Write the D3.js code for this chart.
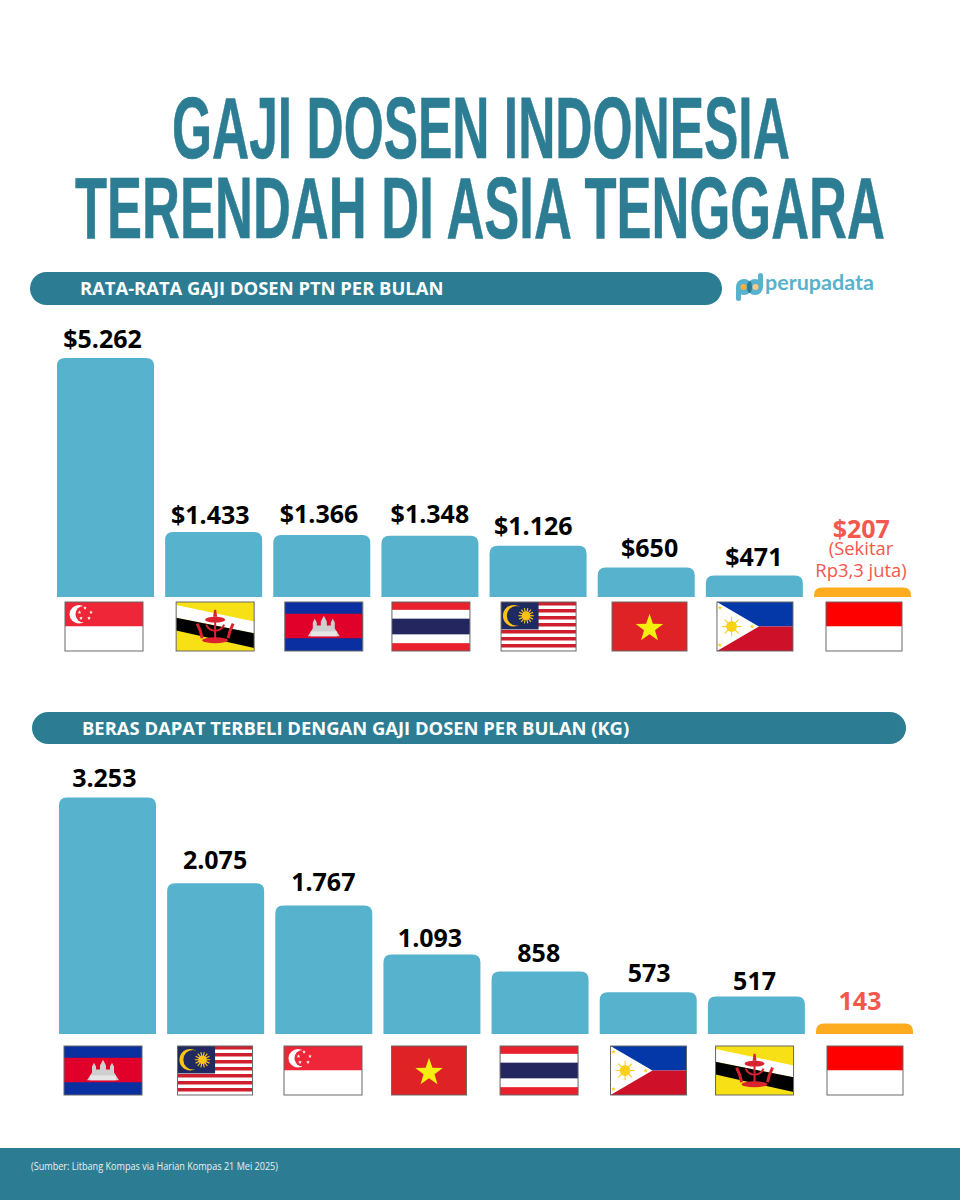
<!DOCTYPE html>
<html>
  <head>
    <meta charset="utf-8">
    <script src="https://cdn.jsdelivr.net/npm/d3@7"></script>
    <style type="text/css">
      body {
        margin: 0;
        padding: 0;
        background: #fff;
      }
      svg {
        display: block;
      }
      text {
        font-family: 'Open Sans', sans-serif;
      }
    </style>
  </head>
  <body>
    <svg id="chart" width="960" height="1200"></svg>

    <script>
      /* Data */
      const salaryCountries = ['sg', 'bn', 'kh', 'th', 'my', 'vn', 'ph', 'id']
      const salaryValues = [5262, 1433, 1366, 1348, 1126, 650, 471, 207]
      const riceCountries = ['kh', 'my', 'sg', 'vn', 'th', 'ph', 'bn', 'id']
      const riceValues = [3253, 2075, 1767, 1093, 858, 573, 517, 143]
      const titleLines = ['GAJI DOSEN INDONESIA', 'TERENDAH DI ASIA TENGGARA']
      const salaryHeading = 'RATA-RATA GAJI DOSEN PTN PER BULAN'
      const riceHeading = 'BERAS DAPAT TERBELI DENGAN GAJI DOSEN PER BULAN (KG)'
      const salaryNote = ['(Sekitar', 'Rp3,3 juta)']
      const sourceText = '(Sumber: Litbang Kompas via Harian Kompas 21 Mei 2025)'

      /* Colours */
      const teal = '#2c7d93'
      const barBlue = '#57b2cd'
      const orange = '#fdab1f'
      const coral = '#f4574e'

      const svg = d3.select('#chart')
      const idLocale = d3.formatLocale({ decimal: ',', thousands: '.', grouping: [3], currency: ['$', ''] })
      const fmtInt = idLocale.format(',d')

      /* Title: narrow face stretched to the measured line width */
      const titleBox = [
        { x: 172, y: 158, w: 618 },
        { x: 75, y: 238, w: 810 }
      ]
      svg.selectAll('.title')
        .data(titleLines)
        .join('text')
        .attr('class', 'title')
        .style('font-family', "'Liberation Sans Narrow', 'Liberation Sans', sans-serif")
        .style('font-weight', 700)
        .style('font-size', '87px')
        .style('fill', teal)
        .style('stroke', teal)
        .style('stroke-width', 0.6)
        .text(d => d)
        .attr('transform', function (d, i) {
          const b = titleBox[i]
          return `translate(${b.x},${b.y}) scale(${b.w / this.getComputedTextLength()},1)`
        })

      /* Heading pills */
      const pill = (x, y, w, h, label, textX) => {
        svg.append('rect')
          .attr('x', x).attr('y', y)
          .attr('width', w).attr('height', h)
          .attr('rx', h / 2)
          .style('fill', teal)
        svg.append('text')
          .attr('x', textX).attr('y', y + h / 2 + 6.5)
          .style('font-size', '18.4px')
          .style('font-weight', 700)
          .style('fill', '#fff')
          .text(label)
      }
      pill(30, 272, 692, 33, salaryHeading, 80)
      pill(32, 712, 874, 32, riceHeading, 82)

      /* Logo */
      const logo = svg.append('g').attr('transform', 'translate(736,272)')
      logo.append('rect').attr('x', 0).attr('y', 14).attr('width', 5).attr('height', 15).attr('rx', 2.5).style('fill', barBlue)
      logo.append('rect').attr('x', 22).attr('y', 1).attr('width', 5).attr('height', 15).attr('rx', 2.5).style('fill', barBlue)
      logo.append('circle').attr('cx', 8).attr('cy', 15).attr('r', 8).style('fill', barBlue)
      logo.append('circle').attr('cx', 19).attr('cy', 15).attr('r', 8).style('fill', barBlue)
      logo.append('ellipse').attr('cx', 13.5).attr('cy', 15).attr('rx', 2.5).attr('ry', 6).style('fill', teal)
      logo.append('circle').attr('cx', 7.5).attr('cy', 15).attr('r', 3).style('fill', '#f5b041')
      logo.append('circle').attr('cx', 19.5).attr('cy', 15).attr('r', 3).style('fill', '#f7c98a')
      svg.append('text')
        .attr('x', 765).attr('y', 290)
        .style('font-family', 'Lato, sans-serif')
        .style('font-size', '21.5px')
        .style('font-weight', 700)
        .style('fill', barBlue)
        .text('perupadata')

      /* Flags, all drawn in a 78 x 50 box */
      const starPath = (cx, cy, r) => {
        const pts = d3.range(10).map(i => {
          const a = -Math.PI / 2 + i * Math.PI / 5
          const rr = i % 2 === 0 ? r : r * 0.4
          return [cx + rr * Math.cos(a), cy + rr * Math.sin(a)]
        })
        return 'M' + pts.join('L') + 'Z'
      }
      const box = (g, x, y, w, h, fill) => g.append('rect').attr('x', x).attr('y', y).attr('width', w).attr('height', h).style('fill', fill)
      const poly = (g, pts, fill) => g.append('polygon').attr('points', pts).style('fill', fill)
      const sun = (g, cx, cy, r, rays, fill) => {
        g.append('circle').attr('cx', cx).attr('cy', cy).attr('r', r * 0.55).style('fill', fill)
        d3.range(rays).forEach(i => {
          const a = i * 2 * Math.PI / rays
          g.append('line')
            .attr('x1', cx).attr('y1', cy)
            .attr('x2', cx + r * Math.cos(a)).attr('y2', cy + r * Math.sin(a))
            .style('stroke', fill).style('stroke-width', 1.2)
        })
      }

      const flags = {
        sg: g => {
          box(g, 0, 0, 78, 25, '#ef2637')
          box(g, 0, 25, 78, 25, '#fff')
          g.append('circle').attr('cx', 14).attr('cy', 12.5).attr('r', 9.5).style('fill', '#fff')
          g.append('circle').attr('cx', 19).attr('cy', 12.5).attr('r', 8.5).style('fill', '#ef2637')
          ;[[20, 6], [26, 10.5], [24, 16.5], [16, 16.5], [14.5, 10.5]].forEach(p => {
            g.append('path').attr('d', starPath(p[0], p[1], 2)).style('fill', '#fff')
          })
        },
        bn: g => {
          box(g, 0, 0, 78, 50, '#f8e016')
          poly(g, '0,3 0,16 78,32 78,20', '#fff')
          poly(g, '0,16 0,29 78,47 78,32', '#000')
          const red = '#d9232e'
          const stroke = (d, w) => g.append('path').attr('d', d).style('fill', 'none').style('stroke', red).style('stroke-width', w)
          g.append('ellipse').attr('cx', 39).attr('cy', 18).attr('rx', 10).attr('ry', 3).style('fill', red)
          poly(g, '38,8 40,8 41,15 37,15', red)
          box(g, 38, 15, 2, 22, red)
          stroke('M30,23 A10,11 0 0 0 48,23', 2)
          g.append('ellipse').attr('cx', 39).attr('cy', 39).attr('rx', 13).attr('ry', 3).style('fill', red)
          stroke('M21,22 Q25,30 26,37', 3)
          stroke('M57,22 Q53,30 52,37', 3)
        },
        kh: g => {
          box(g, 0, 0, 78, 50, '#0a2fa0')
          box(g, 0, 12, 78, 25, '#e0002a')
          poly(g, '23,35 28,27 28,21 30,17 32,21 32,24 36,24 36,20 39,14 42,20 42,24 46,24 46,21 48,17 50,21 50,27 55,35', '#cfcfcf')
          box(g, 26, 30, 26, 5, '#e6e6e6')
        },
        th: g => {
          box(g, 0, 0, 78, 50, '#e8212d')
          box(g, 0, 8, 78, 34, '#fff')
          box(g, 0, 17, 78, 16, '#23265f')
        },
        my: g => {
          box(g, 0, 0, 78, 50, '#fff')
          d3.range(7).forEach(i => box(g, 0, i * 50 / 14 * 2, 78, 50 / 14, '#cf1f2e'))
          box(g, 0, 0, 39, 28, '#1f2a60')
          g.append('circle').attr('cx', 13).attr('cy', 14).attr('r', 11).style('fill', '#fcc315')
          g.append('circle').attr('cx', 16).attr('cy', 14).attr('r', 10).style('fill', '#1f2a60')
          sun(g, 26, 14, 8, 14, '#fcc315')
        },
        vn: g => {
          box(g, 0, 0, 78, 50, '#de2226')
          g.append('path').attr('d', starPath(39, 27, 15)).style('fill', '#f4ef0f')
        },
        ph: g => {
          box(g, 0, 0, 78, 25, '#0438a8')
          box(g, 0, 25, 78, 25, '#ce1128')
          poly(g, '0,0 43,25 0,50', '#fff')
          sun(g, 15, 25, 10, 8, '#fcd116')
          ;[[3, 6], [36, 25], [3, 44]].forEach(p => {
            g.append('path').attr('d', starPath(p[0], p[1], 2.5)).style('fill', '#fcd116')
          })
        },
        id: g => {
          box(g, 0, 0, 78, 25, '#ff0000')
          box(g, 0, 25, 78, 25, '#fff')
        }
      }
      const flagWidth = { sg: 78, bn: 78, kh: 78, th: 78, my: 75, vn: 75, ph: 76, id: 76 }

      /* Bars */
      const topRounded = (x, y, w, h, r) => {
        const rr = Math.min(r, h)
        return `M${x},${y + h}V${y + rr}Q${x},${y} ${x + rr},${y}H${x + w - rr}Q${x + w},${y} ${x + w},${y + rr}V${y + h}Z`
      }

      const drawPanel = (opts) => {
        const { countries, values, left, right, base, top, flagY } = opts
        const x = d3.scaleBand().domain(d3.range(values.length)).range([left, right]).paddingInner(0.103).paddingOuter(0)
        const y = d3.scaleLinear().domain([0, d3.max(values)]).range([base, top])
        const last = values.length - 1
        const g = svg.append('g')

        g.selectAll('path.bar')
          .data(values)
          .join('path')
          .attr('class', 'bar')
          .attr('d', (d, i) => topRounded(x(i), y(d), x.bandwidth(), base - y(d), 8))
          .style('fill', (d, i) => i === last ? orange : barBlue)

        g.selectAll('text.value')
          .data(values)
          .join('text')
          .attr('class', 'value')
          .attr('x', (d, i) => x(i) + x.bandwidth() / 2 + opts.labelShift[i])
          .attr('y', (d, i) => y(d) - opts.labelRise[i])
          .attr('text-anchor', 'middle')
          .style('font-size', '25px')
          .style('font-weight', 700)
          .style('fill', (d, i) => i === last ? coral : '#000')
          .text(d => opts.prefix + fmtInt(d))

        countries.forEach((c, i) => {
          const w = flagWidth[c]
          const f = g.append('g')
            .attr('transform', `translate(${x(i) + x.bandwidth() / 2 - w / 2 + opts.flagShift[i]},${flagY}) scale(${w / 78},0.98)`)
          const clip = 'clip-' + opts.id + '-' + c
          f.append('clipPath').attr('id', clip).append('rect').attr('width', 78).attr('height', 50)
          flags[c](f.append('g').attr('clip-path', `url(#${clip})`))
          f.append('rect')
            .attr('width', 78).attr('height', 50)
            .style('fill', 'none')
            .style('stroke', '#666')
            .style('stroke-width', 1)
        })
      }

      drawPanel({
        id: 'salary', countries: salaryCountries, values: salaryValues,
        left: 57, right: 911, base: 597, top: 358, flagY: 602, prefix: '$',
        labelShift: [-3, -3.4, -2.8, 0, -4.8, 3.4, -0.5, -1.2],
        labelRise: [10.3, 8.4, 11.5, 12.3, 10.9, 10.8, 9.9, 49.6],
        flagShift: [-1.5, 1.5, 2, 1, 0.5, 3.3, 0.6, 1.5]
      })
      drawPanel({
        id: 'rice', countries: riceCountries, values: riceValues,
        left: 59, right: 913, base: 1034, top: 797.5, flagY: 1046, prefix: '',
        labelShift: [-3.2, -0.6, -0.5, -1.9, -1.3, 1, -1.8, -4.5],
        labelRise: [10.8, 14.1, 14.5, 7.5, 9.3, 10.6, 6.4, 13.6],
        flagShift: [-4.5, -0.6, -0.8, -2.9, -1, 0.3, -1.8, 0.5]
      })

      /* Note under the Indonesia salary value */
      svg.selectAll('.note')
        .data(salaryNote)
        .join('text')
        .attr('class', 'note')
        .attr('x', 861)
        .attr('y', (d, i) => 555 + i * 21.5)
        .attr('text-anchor', 'middle')
        .style('font-size', '18.4px')
        .style('fill', coral)
        .text(d => d)

      /* Footer */
      svg.append('rect')
        .attr('x', 0).attr('y', 1148)
        .attr('width', 960).attr('height', 52)
        .style('fill', teal)
      svg.append('text')
        .attr('x', 31).attr('y', 1170)
        .attr('textLength', 247)
        .attr('lengthAdjust', 'spacingAndGlyphs')
        .style('font-size', '11px')
        .style('fill', '#e6f1f4')
        .text(sourceText)
    </script>
  </body>
</html>
